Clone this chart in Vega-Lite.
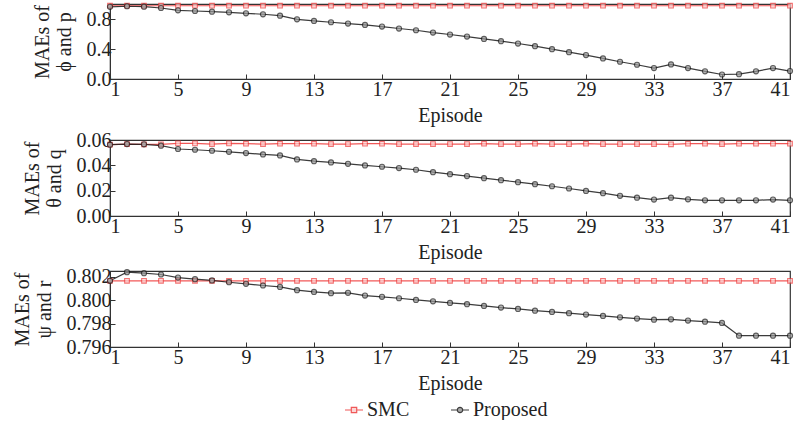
{
  "$schema": "https://vega.github.io/schema/vega-lite/v6.json",
  "background": "white",
  "padding": {"left": 11, "top": 0, "right": 0, "bottom": 0},
  "config": {
    "font": "Liberation Serif",
    "view": {"stroke": "#333", "strokeWidth": 1.2},
    "axis": {"labelFont": "Liberation Serif", "titleFont": "Liberation Serif", "labelFontSize": 20, "titleFontSize": 20, "titleFontWeight": "normal", "labelColor": "#222", "titleColor": "#222", "domainColor": "#333", "tickColor": "#333", "tickSize": -5, "grid": false, "labelPadding": 4},
    "axisY": {"titlePadding": 12, "titleLineHeight": 22},
    "axisX": {"titlePadding": 6, "labelPadding": 5},
    "legend": {"labelFont": "Liberation Serif", "labelFontSize": 20, "labelColor": "#222"},
    "concat": {"spacing": 3}
  },
  "datasets": {
    "d": [
      {"k":"a","e":1,"SMC":0.977,"Proposed":0.962},{"k":"a","e":2,"SMC":0.977,"Proposed":0.97},{"k":"a","e":3,"SMC":0.977,"Proposed":0.965},{"k":"a","e":4,"SMC":0.977,"Proposed":0.947},{"k":"a","e":5,"SMC":0.977,"Proposed":0.916},{"k":"a","e":6,"SMC":0.977,"Proposed":0.907},{"k":"a","e":7,"SMC":0.977,"Proposed":0.898},{"k":"a","e":8,"SMC":0.977,"Proposed":0.889},{"k":"a","e":9,"SMC":0.977,"Proposed":0.876},{"k":"a","e":10,"SMC":0.977,"Proposed":0.863},{"k":"a","e":11,"SMC":0.977,"Proposed":0.845},{"k":"a","e":12,"SMC":0.977,"Proposed":0.796},{"k":"a","e":13,"SMC":0.977,"Proposed":0.774},{"k":"a","e":14,"SMC":0.977,"Proposed":0.757},{"k":"a","e":15,"SMC":0.977,"Proposed":0.739},{"k":"a","e":16,"SMC":0.977,"Proposed":0.721},{"k":"a","e":17,"SMC":0.977,"Proposed":0.699},{"k":"a","e":18,"SMC":0.977,"Proposed":0.673},{"k":"a","e":19,"SMC":0.977,"Proposed":0.65},{"k":"a","e":20,"SMC":0.977,"Proposed":0.619},{"k":"a","e":21,"SMC":0.977,"Proposed":0.593},{"k":"a","e":22,"SMC":0.977,"Proposed":0.566},{"k":"a","e":23,"SMC":0.977,"Proposed":0.535},{"k":"a","e":24,"SMC":0.977,"Proposed":0.504},{"k":"a","e":25,"SMC":0.977,"Proposed":0.473},{"k":"a","e":26,"SMC":0.977,"Proposed":0.438},{"k":"a","e":27,"SMC":0.977,"Proposed":0.398},{"k":"a","e":28,"SMC":0.977,"Proposed":0.358},{"k":"a","e":29,"SMC":0.977,"Proposed":0.319},{"k":"a","e":30,"SMC":0.977,"Proposed":0.274},{"k":"a","e":31,"SMC":0.977,"Proposed":0.23},{"k":"a","e":32,"SMC":0.977,"Proposed":0.19},{"k":"a","e":33,"SMC":0.977,"Proposed":0.146},{"k":"a","e":34,"SMC":0.977,"Proposed":0.195},{"k":"a","e":35,"SMC":0.977,"Proposed":0.146},{"k":"a","e":36,"SMC":0.977,"Proposed":0.102},{"k":"a","e":37,"SMC":0.977,"Proposed":0.06},{"k":"a","e":38,"SMC":0.977,"Proposed":0.064},{"k":"a","e":39,"SMC":0.977,"Proposed":0.102},{"k":"a","e":40,"SMC":0.977,"Proposed":0.146},{"k":"a","e":41,"SMC":0.977,"Proposed":0.106},
      {"k":"b","e":1,"SMC":0.0563,"Proposed":0.0563},{"k":"b","e":2,"SMC":0.0568,"Proposed":0.0568},{"k":"b","e":3,"SMC":0.0566,"Proposed":0.0566},{"k":"b","e":4,"SMC":0.0566,"Proposed":0.0555},{"k":"b","e":5,"SMC":0.0573,"Proposed":0.0529},{"k":"b","e":6,"SMC":0.0573,"Proposed":0.0523},{"k":"b","e":7,"SMC":0.0568,"Proposed":0.0515},{"k":"b","e":8,"SMC":0.0573,"Proposed":0.0507},{"k":"b","e":9,"SMC":0.0571,"Proposed":0.0497},{"k":"b","e":10,"SMC":0.0568,"Proposed":0.0486},{"k":"b","e":11,"SMC":0.0571,"Proposed":0.0478},{"k":"b","e":12,"SMC":0.0571,"Proposed":0.0447},{"k":"b","e":13,"SMC":0.0571,"Proposed":0.0433},{"k":"b","e":14,"SMC":0.0568,"Proposed":0.0423},{"k":"b","e":15,"SMC":0.0568,"Proposed":0.0412},{"k":"b","e":16,"SMC":0.0571,"Proposed":0.0399},{"k":"b","e":17,"SMC":0.0571,"Proposed":0.0389},{"k":"b","e":18,"SMC":0.0568,"Proposed":0.0378},{"k":"b","e":19,"SMC":0.0568,"Proposed":0.0365},{"k":"b","e":20,"SMC":0.0568,"Proposed":0.0346},{"k":"b","e":21,"SMC":0.0568,"Proposed":0.033},{"k":"b","e":22,"SMC":0.0568,"Proposed":0.0315},{"k":"b","e":23,"SMC":0.0571,"Proposed":0.0299},{"k":"b","e":24,"SMC":0.0568,"Proposed":0.0283},{"k":"b","e":25,"SMC":0.0568,"Proposed":0.0267},{"k":"b","e":26,"SMC":0.0571,"Proposed":0.0251},{"k":"b","e":27,"SMC":0.0568,"Proposed":0.0235},{"k":"b","e":28,"SMC":0.0568,"Proposed":0.0217},{"k":"b","e":29,"SMC":0.0571,"Proposed":0.0198},{"k":"b","e":30,"SMC":0.0568,"Proposed":0.018},{"k":"b","e":31,"SMC":0.0568,"Proposed":0.0159},{"k":"b","e":32,"SMC":0.0568,"Proposed":0.0145},{"k":"b","e":33,"SMC":0.0568,"Proposed":0.013},{"k":"b","e":34,"SMC":0.0566,"Proposed":0.0145},{"k":"b","e":35,"SMC":0.0571,"Proposed":0.0132},{"k":"b","e":36,"SMC":0.0571,"Proposed":0.0124},{"k":"b","e":37,"SMC":0.0568,"Proposed":0.0124},{"k":"b","e":38,"SMC":0.0571,"Proposed":0.0124},{"k":"b","e":39,"SMC":0.0571,"Proposed":0.0124},{"k":"b","e":40,"SMC":0.0571,"Proposed":0.013},{"k":"b","e":41,"SMC":0.0571,"Proposed":0.0124},
      {"k":"c","e":1,"SMC":0.80166,"Proposed":0.80166},{"k":"c","e":2,"SMC":0.80166,"Proposed":0.8024},{"k":"c","e":3,"SMC":0.80166,"Proposed":0.80231},{"k":"c","e":4,"SMC":0.80166,"Proposed":0.8022},{"k":"c","e":5,"SMC":0.80166,"Proposed":0.80194},{"k":"c","e":6,"SMC":0.80166,"Proposed":0.8018},{"k":"c","e":7,"SMC":0.80166,"Proposed":0.80169},{"k":"c","e":8,"SMC":0.80166,"Proposed":0.80154},{"k":"c","e":9,"SMC":0.80166,"Proposed":0.8014},{"k":"c","e":10,"SMC":0.80166,"Proposed":0.80126},{"k":"c","e":11,"SMC":0.80166,"Proposed":0.80114},{"k":"c","e":12,"SMC":0.80166,"Proposed":0.80086},{"k":"c","e":13,"SMC":0.80166,"Proposed":0.80071},{"k":"c","e":14,"SMC":0.80166,"Proposed":0.8006},{"k":"c","e":15,"SMC":0.80166,"Proposed":0.80063},{"k":"c","e":16,"SMC":0.80166,"Proposed":0.8004},{"k":"c","e":17,"SMC":0.80166,"Proposed":0.80029},{"k":"c","e":18,"SMC":0.80166,"Proposed":0.80017},{"k":"c","e":19,"SMC":0.80166,"Proposed":0.80003},{"k":"c","e":20,"SMC":0.80166,"Proposed":0.79991},{"k":"c","e":21,"SMC":0.80166,"Proposed":0.79977},{"k":"c","e":22,"SMC":0.80166,"Proposed":0.79966},{"k":"c","e":23,"SMC":0.80166,"Proposed":0.79951},{"k":"c","e":24,"SMC":0.80166,"Proposed":0.79937},{"k":"c","e":25,"SMC":0.80166,"Proposed":0.79926},{"k":"c","e":26,"SMC":0.80166,"Proposed":0.79911},{"k":"c","e":27,"SMC":0.80166,"Proposed":0.799},{"k":"c","e":28,"SMC":0.80166,"Proposed":0.79889},{"k":"c","e":29,"SMC":0.80166,"Proposed":0.79877},{"k":"c","e":30,"SMC":0.80166,"Proposed":0.79866},{"k":"c","e":31,"SMC":0.80166,"Proposed":0.79854},{"k":"c","e":32,"SMC":0.80166,"Proposed":0.79843},{"k":"c","e":33,"SMC":0.80166,"Proposed":0.79834},{"k":"c","e":34,"SMC":0.80166,"Proposed":0.79837},{"k":"c","e":35,"SMC":0.80166,"Proposed":0.79826},{"k":"c","e":36,"SMC":0.80166,"Proposed":0.79817},{"k":"c","e":37,"SMC":0.80166,"Proposed":0.79806},{"k":"c","e":38,"SMC":0.80166,"Proposed":0.79697},{"k":"c","e":39,"SMC":0.80166,"Proposed":0.79697},{"k":"c","e":40,"SMC":0.80166,"Proposed":0.79697},{"k":"c","e":41,"SMC":0.80166,"Proposed":0.79697}
    ]
  },
  "data": {"name": "d"},
  "resolve": {"scale": {"color": "shared"}, "legend": {"color": "shared"}},
  "vconcat": [
    {
      "width": 680, "height": 75,
      "transform": [{"filter": "datum.k == 'a'"}, {"fold": ["SMC", "Proposed"], "as": ["series", "value"]}],
      "encoding": {
        "x": {"field": "e", "type": "quantitative", "scale": {"domain": [1, 41], "nice": false}, "axis": {"values": [1,5,9,13,17,21,25,29,33,37,41], "title": "Episode"}},
        "y": {"field": "value", "type": "quantitative", "scale": {"domain": [0, 1], "nice": false, "zero": false}, "axis": {"values": [0, 0.4, 0.8], "format": ".1f", "title": ["MAEs of", "ϕ and p"]}}
      },
      "layer": [
        {"mark": {"type": "line", "strokeWidth": 1.2, "opacity": 0.85},
         "encoding": {"color": {"field": "series", "type": "nominal", "scale": {"domain": ["SMC", "Proposed"], "range": ["#ee3b3b", "#1a1a1a"]},
          "legend": {"orient": "none", "legendX": 234, "legendY": 396, "direction": "horizontal", "title": null, "symbolSize": 324, "symbolStrokeWidth": 1.2, "columnPadding": 38, "labelOffset": 3,
            "symbolType": {"expr": "datum.value === 'SMC' ? 'M-1,0H-0.3M0.3,0H1M-0.3,-0.3H0.3V0.3H-0.3Z' : 'M-1,0H-0.3M0.3,0H1M0.3,0A0.3,0.3 0 1,1 -0.3,0A0.3,0.3 0 1,1 0.3,0Z'"},
            "symbolFillColor": {"expr": "datum.value === 'SMC' ? '#fbd0d0' : '#999999'"}}}}},
        {"transform": [{"filter": "datum.series == 'SMC'"}], "mark": {"type": "point", "shape": "square", "size": 22, "strokeWidth": 1.1, "fill": "#fbd0d0", "filled": false}, "encoding": {"color": {"field": "series", "type": "nominal", "legend": null}}},
        {"transform": [{"filter": "datum.series == 'Proposed'"}], "mark": {"type": "point", "shape": "circle", "size": 26, "strokeWidth": 1.1, "fill": "#999999", "filled": false}, "encoding": {"color": {"field": "series", "type": "nominal", "legend": null}}}
      ]
    },
    {
      "width": 680, "height": 76,
      "transform": [{"filter": "datum.k == 'b'"}, {"fold": ["SMC", "Proposed"], "as": ["series", "value"]}],
      "encoding": {
        "x": {"field": "e", "type": "quantitative", "scale": {"domain": [1, 41], "nice": false}, "axis": {"values": [1,5,9,13,17,21,25,29,33,37,41], "title": "Episode"}},
        "y": {"field": "value", "type": "quantitative", "scale": {"domain": [0, 0.06], "nice": false, "zero": false}, "axis": {"values": [0, 0.02, 0.04, 0.06], "format": ".2f", "title": ["MAEs of", "θ and q"]}},
        "color": {"field": "series", "type": "nominal", "legend": null}
      },
      "layer": [
        {"mark": {"type": "line", "strokeWidth": 1.2, "opacity": 0.85}},
        {"transform": [{"filter": "datum.series == 'SMC'"}], "mark": {"type": "point", "shape": "square", "size": 22, "strokeWidth": 1.1, "fill": "#fbd0d0", "filled": false}},
        {"transform": [{"filter": "datum.series == 'Proposed'"}], "mark": {"type": "point", "shape": "circle", "size": 26, "strokeWidth": 1.1, "fill": "#999999", "filled": false}}
      ]
    },
    {
      "width": 680, "height": 76,
      "transform": [{"filter": "datum.k == 'c'"}, {"fold": ["SMC", "Proposed"], "as": ["series", "value"]}],
      "encoding": {
        "x": {"field": "e", "type": "quantitative", "scale": {"domain": [1, 41], "nice": false}, "axis": {"values": [1,5,9,13,17,21,25,29,33,37,41], "title": "Episode"}},
        "y": {"field": "value", "type": "quantitative", "scale": {"domain": [0.796, 0.8025], "nice": false, "zero": false}, "axis": {"values": [0.796, 0.798, 0.8, 0.802], "format": ".3f", "title": ["MAEs of", "ψ and r"]}},
        "color": {"field": "series", "type": "nominal", "legend": null}
      },
      "layer": [
        {"mark": {"type": "line", "strokeWidth": 1.2, "opacity": 0.85}},
        {"transform": [{"filter": "datum.series == 'SMC'"}], "mark": {"type": "point", "shape": "square", "size": 22, "strokeWidth": 1.1, "fill": "#fbd0d0", "filled": false}},
        {"transform": [{"filter": "datum.series == 'Proposed'"}], "mark": {"type": "point", "shape": "circle", "size": 26, "strokeWidth": 1.1, "fill": "#999999", "filled": false}}
      ]
    }
  ]
}
